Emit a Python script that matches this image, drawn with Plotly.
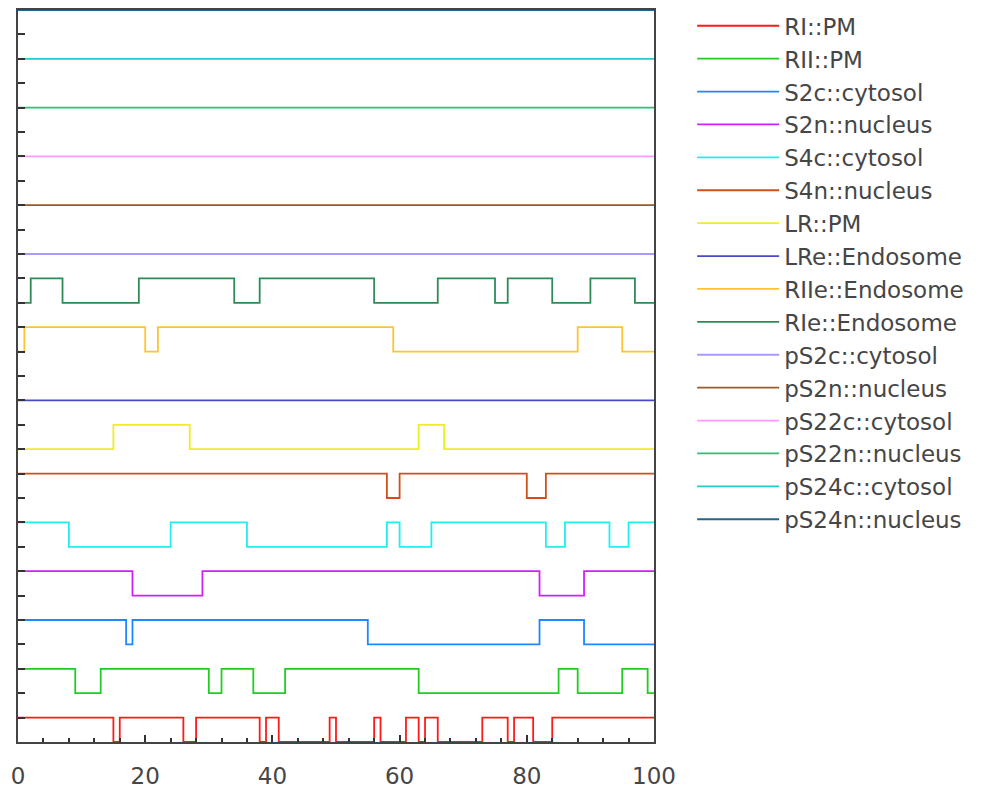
import plotly.graph_objects as go

# ---- data -------------------------------------------------------------
species = ["RI::PM", "RII::PM", "S2c::cytosol", "S2n::nucleus", "S4c::cytosol",
           "S4n::nucleus", "LR::PM", "LRe::Endosome", "RIIe::Endosome",
           "RIe::Endosome", "pS2c::cytosol", "pS2n::nucleus", "pS22c::cytosol",
           "pS22n::nucleus", "pS24c::cytosol", "pS24n::nucleus"]

colors = ["#ff1a1a", "#22cc22", "#1e88ff", "#cc22ff", "#22eeee", "#d0501a",
          "#eeee22", "#4848cc", "#ffc430", "#2e8b57", "#aa99ff", "#9a5a2a",
          "#ff99ff", "#33bb77", "#22cccc", "#226688"]

# state change times (step series, state held until next time)
RI_t = [0, 15, 16, 26, 28, 38, 39, 41, 49, 50, 56, 57, 61, 63, 64, 66, 73, 77, 78, 81, 84, 100]
RI_v = [1, 0, 1, 0, 1, 0, 1, 0, 1, 0, 1, 0, 1, 0, 1, 0, 1, 0, 1, 0, 1, 1]
RII_t = [0, 9, 13, 30, 32, 37, 42, 63, 85, 88, 95, 99, 100]
RII_v = [1, 0, 1, 0, 1, 0, 1, 0, 1, 0, 1, 0, 0]
S2c_t = [0, 17, 18, 55, 82, 89, 100]
S2c_v = [1, 0, 1, 0, 1, 0, 0]
S2n_t = [0, 18, 29, 82, 89, 100]
S2n_v = [1, 0, 1, 0, 1, 1]
S4c_t = [0, 8, 24, 36, 58, 60, 65, 83, 86, 93, 96, 100]
S4c_v = [1, 0, 1, 0, 1, 0, 1, 0, 1, 0, 1, 1]
S4n_t = [0, 58, 60, 80, 83, 100]
S4n_v = [1, 0, 1, 0, 1, 1]
LR_t = [0, 15, 27, 63, 67, 100]
LR_v = [0, 1, 0, 1, 0, 0]
LRe_t = [0, 100]
LRe_v = [0, 0]
RIIe_t = [0, 1, 20, 22, 59, 88, 95, 100]
RIIe_v = [0, 1, 0, 1, 0, 1, 0, 0]
RIe_t = [0, 2, 7, 19, 34, 38, 56, 66, 75, 77, 84, 90, 97, 100]
RIe_v = [0, 1, 0, 1, 0, 1, 0, 1, 0, 1, 0, 1, 0, 0]
pS2c_t = [0, 100]
pS2c_v = [0, 0]
pS2n_t = [0, 100]
pS2n_v = [0, 0]
pS22c_t = [0, 100]
pS22c_v = [0, 0]
pS22n_t = [0, 100]
pS22n_v = [0, 0]
pS24c_t = [0, 100]
pS24c_v = [0, 0]
pS24n_t = [0, 100]
pS24n_v = [0, 0]

series_t = [RI_t, RII_t, S2c_t, S2n_t, S4c_t, S4n_t, LR_t, LRe_t, RIIe_t, RIe_t,
            pS2c_t, pS2n_t, pS22c_t, pS22n_t, pS24c_t, pS24n_t]
series_v = [RI_v, RII_v, S2c_v, S2n_v, S4c_v, S4n_v, LR_v, LRe_v, RIIe_v, RIe_v,
            pS2c_v, pS2n_v, pS22c_v, pS22n_v, pS24c_v, pS24n_v]

x_ticks = [0, 20, 40, 60, 80, 100]

# ---- figure -----------------------------------------------------------
fig = go.Figure()
for i, (name, t, v, c) in enumerate(zip(species, series_t, series_v, colors)):
    offset = 2 * i
    fig.add_trace(go.Scatter(
        x=t, y=[val + offset for val in v], mode="lines", name=name,
        line=dict(color=c, width=1.8, shape="hv"),
    ))

axis_common = dict(showgrid=False, zeroline=False, showline=True, mirror=True,
                   linecolor="#444444", linewidth=2, ticks="inside",
                   tickcolor="#333333", automargin=False)

fig.update_layout(
    width=992, height=789,
    margin=dict(l=18, r=338, t=10, b=47, autoexpand=False),
    paper_bgcolor="white", plot_bgcolor="white",
    font=dict(family="DejaVu Sans", size=23, color="#464646"),
    xaxis=dict(range=[0, 100], tickvals=x_ticks, ticklen=7, tickwidth=1.5,
               minor=dict(dtick=4, ticklen=4, tickcolor="#333333", ticks="inside", tickwidth=1.5),
               tickfont=dict(size=23, color="#464646"), ticklabelstandoff=12,
               **axis_common),
    yaxis=dict(range=[0, 30], dtick=1, tick0=0, ticklen=7, tickwidth=1.5,
               showticklabels=False, **axis_common),
    legend=dict(x=1.060, y=1.0078, xanchor="left", yanchor="top",
                font=dict(size=23, color="#464646"), tracegroupgap=0,
                itemwidth=82, bgcolor="rgba(0,0,0,0)", maxheight=760),
    showlegend=True,
)

fig.write_html("out.html")
